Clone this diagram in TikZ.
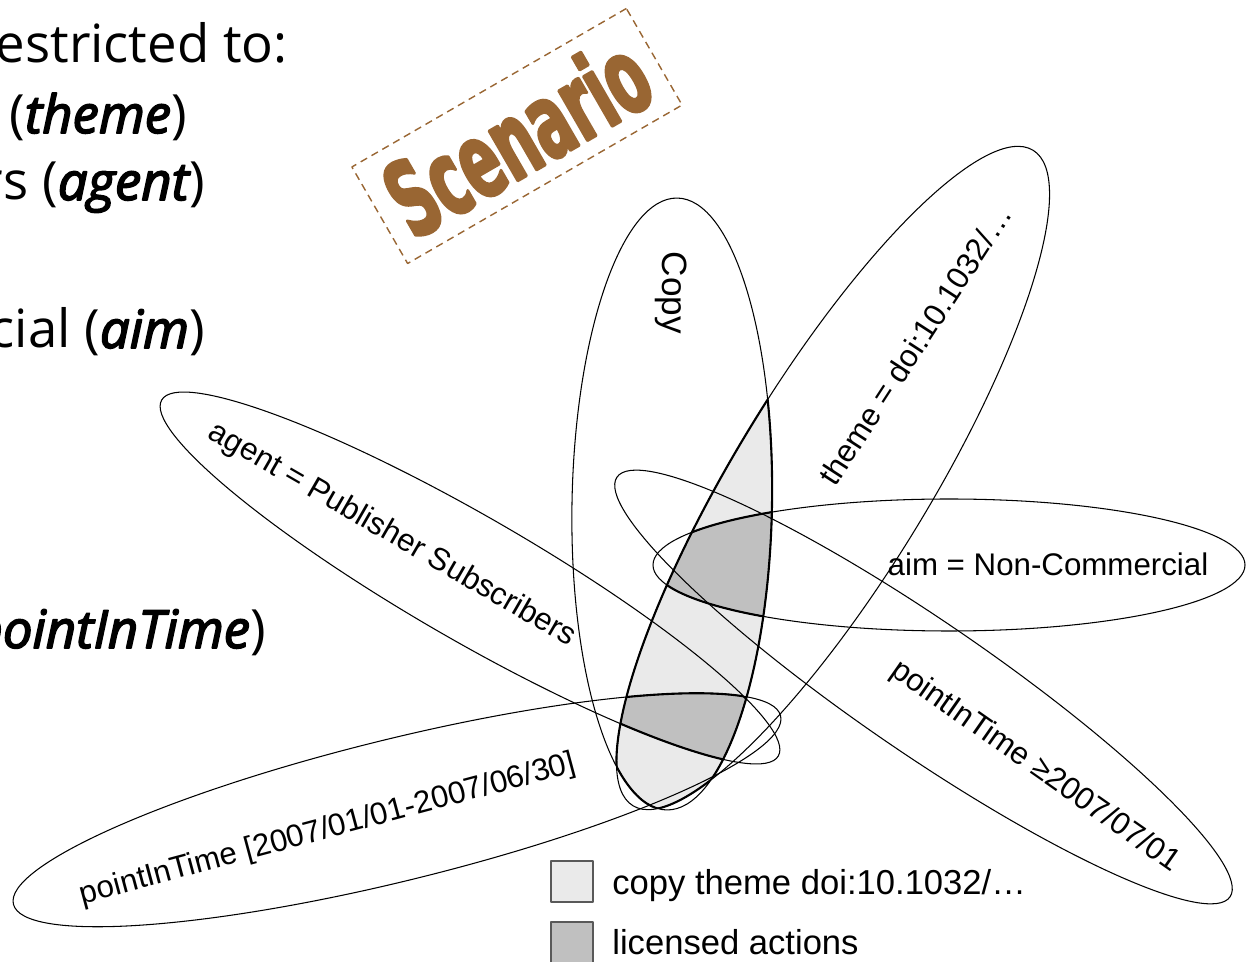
\documentclass[tikz,border=0pt]{standalone}
\usepackage{fontspec}
\setmainfont{Liberation Sans}
\newfontfamily\slidefont{Open Sans}
\newfontfamily\slideemph[FakeBold=3]{Open Sans}
\newfontfamily\stampfont[FakeStretch=0.55, FakeBold=2.5]{DejaVu Sans}

\definecolor{stampbrown}{HTML}{996633}
\definecolor{lightfill}{HTML}{EAEAEA}
\definecolor{darkfill}{HTML}{C0C0C0}

% the six condition sets, as rotated ellipses (units: 1 = 0.02cm)
\newcommand\copyShape[1]{\path[#1, rotate around={-1:(672,-504)}] (672,-504) ellipse (100 and 306);}
\newcommand\themeShape[1]{\path[#1, rotate around={58.6:(833,-478)}] (833,-478) ellipse (384 and 97);}
\newcommand\agentShape[1]{\path[#1, rotate around={-30:(470,-578)}] (470,-578) ellipse (356 and 62);}
\newcommand\earlyShape[1]{\path[#1, rotate around={13.8:(397,-810)}] (397,-810) ellipse (395 and 71);}
\newcommand\aimShape[1]{\path[#1] (949,-565) ellipse (296 and 66);}
\newcommand\lateShape[1]{\path[#1, rotate around={-34.4:(923.5,-687)}] (923.5,-687) ellipse (371.5 and 66);}

% emphasised words of the slide text
\newcommand\slideword[1]{{\slideemph\itshape #1}}

\begin{document}
\begin{tikzpicture}[x=0.02cm, y=0.02cm, line join=round,
  ring/.style={draw=black, line width=0.6pt},
  rim/.style={draw=black, line width=1.2pt},
  setlabel/.style={font=\fontsize{17.8}{20}\selectfont, inner sep=0pt},
  slide/.style={font=\slidefont\fontsize{30}{36}\selectfont, inner sep=0pt, anchor=base east},
  keybox/.style={draw=black!65, line width=0.6pt, minimum width=0.84cm, minimum height=0.82cm, inner sep=0pt},
  keytext/.style={font=\fontsize{19.7}{22}\selectfont, inner sep=0pt, anchor=base west}]
\useasboundingbox (0,0) rectangle (1249,-962);
\clip (0,0) rectangle (1249,-962);

% slide text running in from the left
\node[slide] (l1) at (288,-63) {estricted to:};
\node[slide] (l2) at (187,-133) {(\slideword{theme})};
\node[slide] (l3) at (205,-200) {rs (\slideword{agent})};
\node[slide] (l4) at (205,-348) {cial (\slideword{aim})};
\node[slide] (l5) at (266,-648) {\slideword{pointInTime})};

% stamp
\node[draw=stampbrown, dash pattern=on 4.2pt off 2.9pt, line width=0.8pt,
      rotate=30, minimum width=6.34cm, minimum height=2.23cm] (stamp) at (517,-136) {};
\node[text=stampbrown, rotate=30, inner sep=0pt,
      font=\stampfont\bfseries\fontsize{60}{60}\selectfont] (stamptext) at (stamp.center) {Scenario};

% copy of the theme: Copy and theme
\begin{scope}
  \copyShape{clip}
  \themeShape{fill=lightfill}
\end{scope}
% licensed: non-commercial
\begin{scope}
  \copyShape{clip}
  \themeShape{clip}
  \aimShape{fill=darkfill}
\end{scope}
% licensed: subscribers in the first half of 2007
\begin{scope}
  \copyShape{clip}
  \themeShape{clip}
  \agentShape{clip}
  \earlyShape{fill=darkfill}
\end{scope}

% outlines of all sets
\copyShape{ring}
\themeShape{ring}
\agentShape{ring}
\earlyShape{ring}
\aimShape{ring}
\lateShape{ring}

% heavier borders of the shaded regions
\begin{scope}\themeShape{clip}\copyShape{rim}\end{scope}
\begin{scope}\copyShape{clip}\themeShape{rim}\end{scope}
\begin{scope}\copyShape{clip}\themeShape{clip}\aimShape{rim}\end{scope}
\begin{scope}\copyShape{clip}\themeShape{clip}\agentShape{clip}\earlyShape{rim}\end{scope}
\begin{scope}\copyShape{clip}\themeShape{clip}\earlyShape{clip}\agentShape{rim}\end{scope}

% set labels
\node[setlabel, rotate=-90, font=\fontsize{20}{22}\selectfont] (tcopy) at (671,-293) {Copy};
\node[setlabel, rotate=57] (ttheme) at (915,-345) {theme = doi:10.1032/…};
\node[setlabel, rotate=-30] (tagent) at (392,-535) {agent = Publisher Subscribers};
\node[setlabel, rotate=15] (tearly) at (328,-830) {pointInTime [2007/01/01-2007/06/30]};
\node[setlabel, anchor=base] (taim) at (1048,-576) {aim = Non-Commercial};
\node[setlabel, rotate=-35] (tlate) at (1035,-767) {pointInTime ≥2007/07/01};

% key
\node[keybox, fill=lightfill] (k1) at (572,-881.5) {};
\node[keybox, fill=darkfill] (k2) at (572,-942.5) {};
\node[keytext] (k1t) at (612,-895) {copy theme doi:10.1032/…};
\node[keytext] (k2t) at (612,-955) {licensed actions};
\end{tikzpicture}
\end{document}
